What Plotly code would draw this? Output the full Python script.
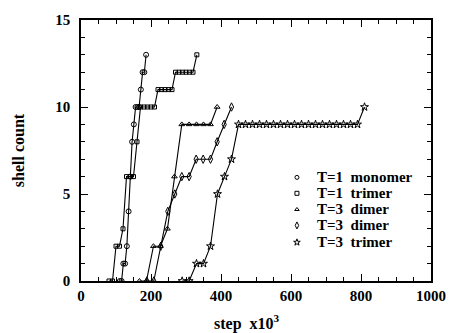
import plotly.graph_objects as go

# ---- data (step in units of 10^3, shell count) ----
mono_x = [111, 116, 121, 126, 131, 136, 141, 146, 151, 156, 161, 166, 171, 176, 181, 186]
mono_y = [0, 0, 1, 1, 2, 4, 6, 8, 9, 10, 10, 10, 11, 12, 12, 13]

tri1_x = [80, 90, 100, 110, 120, 130, 140, 150, 160, 170, 180, 190, 200, 210,
          220, 230, 240, 250, 260, 270, 280, 290, 300, 310, 320, 331]
tri1_y = [0, 0, 2, 2, 3, 6, 6, 6, 8, 10, 10, 10, 10, 10,
          11, 11, 11, 11, 11, 12, 12, 12, 12, 12, 12, 13]

dimA_x = [167, 187, 207, 227, 247, 267, 288, 309, 330, 350, 370, 389]
dimA_y = [0, 0, 2, 2, 3, 6, 9, 9, 9, 9, 9, 10]

dimB_x = [188, 208, 228, 248, 268, 288, 309, 329, 349, 370, 389, 409, 430]
dimB_y = [0, 0, 2, 4, 5, 6, 6, 7, 7, 7, 8, 9, 10]

tri3_x = [289, 309, 330, 350, 370, 390, 410, 430, 450, 470, 490, 510, 530, 550,
          570, 590, 610, 630, 650, 670, 690, 710, 730, 750, 770, 790, 810]
tri3_y = [0, 0, 1, 1, 2, 5, 6, 7, 9, 9, 9, 9, 9, 9,
          9, 9, 9, 9, 9, 9, 9, 9, 9, 9, 9, 9, 10]

series_names = ["T=1\u00a0\u00a0monomer", "T=1\u00a0\u00a0trimer", "T=3\u00a0\u00a0dimer",
                "T=3\u00a0\u00a0dimer", "T=3\u00a0\u00a0trimer"]
symbols = ["circle-open", "square-open", "triangle-up-open", "diamond-tall-open", "star-open"]
msizes = [5, 4, 5, 6, 6]
legend_msizes = [4, 4, 4, 5, 5]

x_ticks = [0, 200, 400, 600, 800, 1000]
y_ticks = [0, 5, 10, 15]

# legend layout (paper-like coordinates on an overlay axis)
leg_marker_x = 0.617
leg_text_x = 0.668
leg_y = [0.397, 0.336, 0.274, 0.213, 0.148]

FONT = "Liberation Serif, Times New Roman, serif"

fig = go.Figure()
data = [(mono_x, mono_y), (tri1_x, tri1_y), (dimA_x, dimA_y), (dimB_x, dimB_y), (tri3_x, tri3_y)]
for (xs, ys), sym, ms, nm in zip(data, symbols, msizes, series_names):
    fig.add_trace(go.Scatter(
        x=xs, y=ys, mode="lines+markers", name=nm, showlegend=False,
        line=dict(color="black", width=1.1),
        marker=dict(symbol=sym, size=ms, color="black", line=dict(width=1, color="black")),
    ))

# legend markers
for sym, ms, ly in zip(symbols, legend_msizes, leg_y):
    fig.add_trace(go.Scatter(
        x=[leg_marker_x], y=[ly], xaxis="x2", yaxis="y2", mode="markers", showlegend=False,
        marker=dict(symbol=sym, size=ms, color="black", line=dict(width=1, color="black")),
        hoverinfo="skip",
    ))

annotations = []
for nm, ly in zip(series_names, leg_y):
    annotations.append(dict(
        x=leg_text_x, y=ly, xref="paper", yref="paper", text="<b>%s</b>" % nm,
        showarrow=False, xanchor="left", yanchor="middle",
        font=dict(family=FONT, size=15, color="black"),
    ))
annotations.append(dict(
    x=0.475, y=-0.16, xref="paper", yref="paper", text="<b>step  x10<sup>3</sup></b>",
    showarrow=False, xanchor="center", yanchor="middle",
    font=dict(family=FONT, size=16, color="black"),
))
annotations.append(dict(
    x=-0.178, y=0.5, xref="paper", yref="paper", text="<b>shell count</b>",
    showarrow=False, xanchor="center", yanchor="middle", textangle=-90,
    font=dict(family=FONT, size=16, color="black"),
))

axis_common = dict(
    showgrid=False, zeroline=False, showline=True, linecolor="black", linewidth=1.5,
    mirror="ticks", ticks="inside", tickcolor="black", tickwidth=1.2, ticklen=7,
    tickfont=dict(family=FONT, size=15, color="black", weight="bold"),
)

fig.update_layout(
    width=458, height=333,
    margin=dict(l=81, r=17, t=18, b=52),
    paper_bgcolor="white", plot_bgcolor="white",
    showlegend=False,
    xaxis=dict(range=[0, 1000], tickvals=x_ticks, ticktext=[str(v) for v in x_ticks],
               minor=dict(dtick=50, ticks="inside", ticklen=4, tickcolor="black", tickwidth=1),
               **axis_common),
    yaxis=dict(range=[0, 15], tickvals=y_ticks, ticktext=[str(v) for v in y_ticks],
               ticklabelstandoff=6,
               minor=dict(dtick=1, ticks="inside", ticklen=4, tickcolor="black", tickwidth=1),
               **axis_common),
    xaxis2=dict(range=[0, 1], overlaying="x", visible=False, fixedrange=True),
    yaxis2=dict(range=[0, 1], overlaying="y", visible=False, fixedrange=True),
    annotations=annotations,
)

fig.write_html("out.html")
